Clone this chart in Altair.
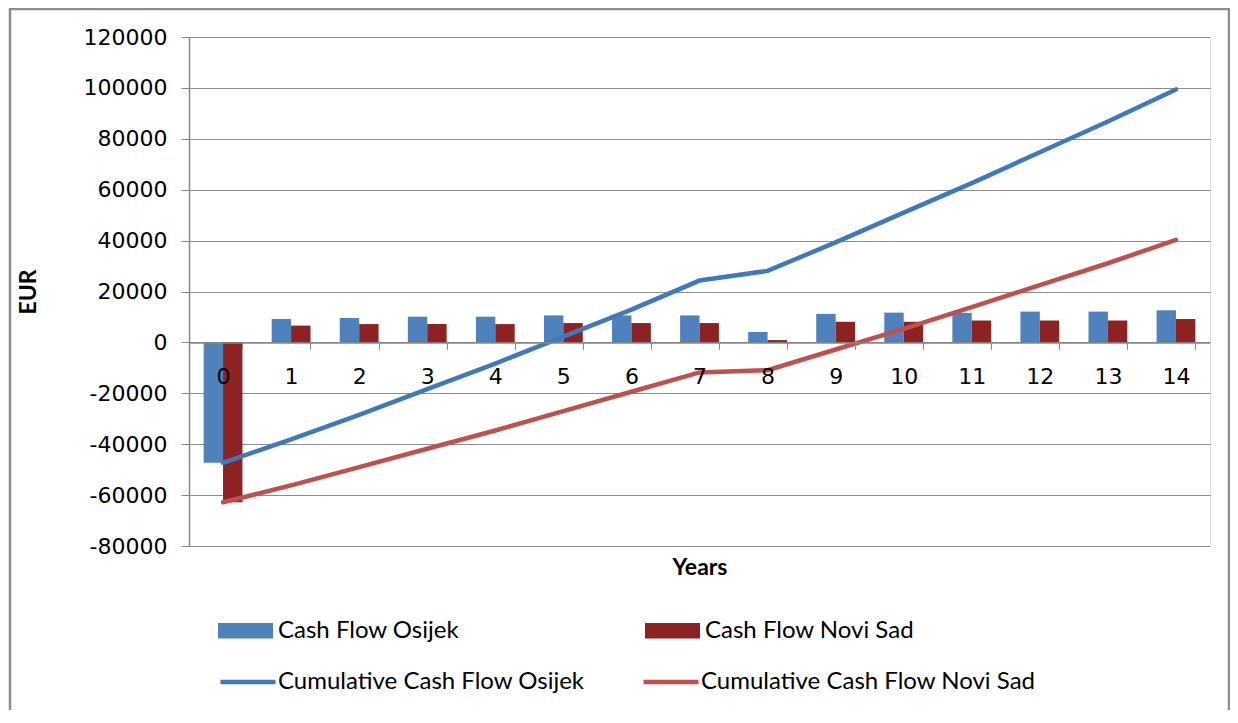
import altair as alt
import pandas as pd

years = list(range(15))
cf_osijek = [-47300, 9200, 9600, 10100, 10100, 10600, 10600, 10600, 4100, 11200, 11700, 11600, 12100, 12100, 12600]
cf_novisad = [-62800, 6600, 7200, 7200, 7200, 7600, 7600, 7600, 900, 8100, 8100, 8600, 8600, 8600, 9200]
cum_osijek = [-47300, -38100, -28500, -18400, -8300, 2300, 12900, 24300, 28100, 39300, 51000, 62600, 74700, 86800, 99400]
cum_novisad = [-62800, -56200, -49000, -41800, -34600, -27000, -19400, -11800, -10900, -2800, 5300, 13900, 22500, 31100, 40300]

bar_names = ["Cash Flow Osijek", "Cash Flow Novi Sad"]
line_names = ["Cumulative Cash Flow Osijek", "Cumulative Cash Flow Novi Sad"]
bar_colors = ["#4F81BD", "#8E2121"]
line_colors = ["#3F78BE", "#C0504D"]

y_min, y_max = -80000, 120000
y_ticks = list(range(-80000, 120001, 20000))

W, H = 1021, 509

bars_df = pd.DataFrame(
    [{"year": y, "series": bar_names[0], "value": v} for y, v in zip(years, cf_osijek)]
    + [{"year": y, "series": bar_names[1], "value": v} for y, v in zip(years, cf_novisad)]
)
lines_df = pd.DataFrame(
    [{"year": y, "series": line_names[0], "value": v} for y, v in zip(years, cum_osijek)]
    + [{"year": y, "series": line_names[1], "value": v} for y, v in zip(years, cum_novisad)]
)

x_offset_px = -H * (0 - y_min) / (y_max - y_min)

x_scale = alt.Scale(paddingInner=0.43, paddingOuter=0.215)
y_scale = alt.Scale(domain=[y_min, y_max], nice=False, zero=False)

x_axis = alt.Axis(
    title="Years", titleFont="Lato", titleFontSize=23, titleFontWeight="bold",
    titleColor="#000000", titleY=225, titleBaseline="middle",
    labelFont="DejaVu Sans", labelFontSize=22, labelColor="#000000", labelAngle=0,
    labelPadding=17, tickBand="extent", tickSize=7, tickColor="#868686",
    domainColor="#868686", domainWidth=1.5, offset=x_offset_px, grid=False, zindex=1,
)
y_axis = alt.Axis(
    title="EUR", titleFont="Lato", titleFontSize=23, titleFontWeight="bold",
    titleColor="#000000", titleX=-149, titleY=H / 2, titleAngle=270,
    titleBaseline="bottom", titleAlign="center",
    values=y_ticks, labelExpr="'' + datum.value",
    labelFont="DejaVu Sans", labelFontSize=22, labelColor="#000000", labelPadding=14,
    tickSize=8, tickColor="#868686", domainColor="#868686", domainWidth=1.5,
    grid=True, gridColor="#8c8c8c", gridWidth=1.2,
)

bars = alt.Chart(bars_df).mark_bar(strokeWidth=1).encode(
    x=alt.X("year:O", scale=x_scale, axis=x_axis, sort=years),
    xOffset=alt.XOffset("series:N", sort=bar_names, scale=alt.Scale(paddingInner=0, paddingOuter=0)),
    y=alt.Y("value:Q", scale=y_scale, axis=y_axis),
    fill=alt.Fill(
        "series:N",
        scale=alt.Scale(domain=bar_names, range=bar_colors),
        legend=alt.Legend(
            title=None, orient="none", legendX=29, legendY=566, columns=2,
            columnPadding=185, labelLimit=500,
            symbolType="M-1,-0.28L1,-0.28L1,0.28L-1,0.28Z", symbolSize=3025,
            symbolStrokeWidth=0, labelFont="Lato", labelFontSize=24,
            labelColor="#000000", labelOffset=5,
        ),
    ),
)

lines = alt.Chart(lines_df).mark_line(strokeWidth=4.5, strokeCap="round").encode(
    x=alt.X("year:O", sort=years),
    y=alt.Y("value:Q"),
    stroke=alt.Stroke(
        "series:N",
        scale=alt.Scale(domain=line_names, range=line_colors),
        legend=alt.Legend(
            title=None, orient="none", legendX=29, legendY=615, columns=2,
            columnPadding=49, labelLimit=500,
            symbolType="stroke", symbolSize=3025, symbolStrokeWidth=4.5,
            labelFont="Lato", labelFontSize=24, labelColor="#000000", labelOffset=0,
        ),
    ),
)

frame = alt.Chart(pd.DataFrame({"a": [0]})).mark_rect(
    filled=False, stroke="#8c8c8c", strokeWidth=2.5
).encode(
    x=alt.value(-179), x2=alt.value(1040), y=alt.value(-28), y2=alt.value(720)
)

chart = alt.layer(bars, lines, frame).resolve_scale(
    fill="independent", stroke="independent"
).properties(
    width=W, height=H,
    autosize=alt.AutoSizeParams(type="none"),
    padding={"left": 181, "top": 29, "right": 20, "bottom": 164},
).configure_view(stroke="transparent").configure(background="white")

chart.save("out.html", embed_options={"renderer": "svg", "actions": False})
